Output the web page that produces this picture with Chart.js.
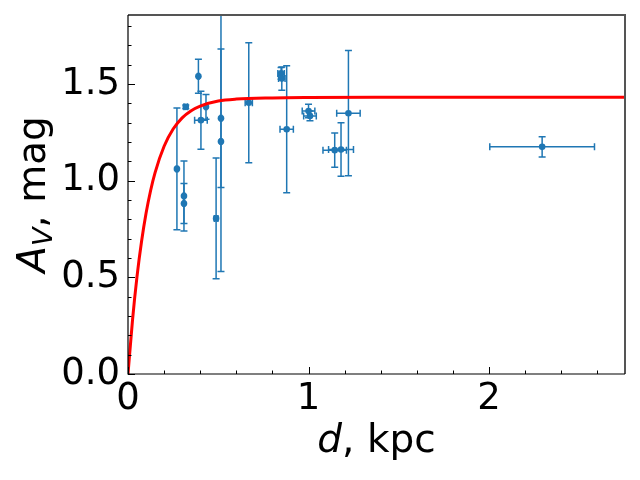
<!DOCTYPE html>
<html>
<head>
<meta charset="utf-8">
<script src="https://cdn.jsdelivr.net/npm/chart.js@4/dist/chart.umd.min.js"></script>
<style>
html,body{margin:0;padding:0;background:#fff;}
#wrap{width:640px;height:480px;}
</style>
</head>
<body>
<div id="wrap"><canvas id="c" width="640" height="480"></canvas></div>
<script>
// ---- data ----
const dist    = [0.271, 0.310, 0.310, 0.320, 0.390, 0.404, 0.432, 0.488, 0.515, 0.515, 0.669, 0.848, 0.852, 0.879, 1.000, 1.008, 1.145, 1.180, 1.221, 2.294];
const av      = [1.061, 0.921, 0.882, 1.382, 1.540, 1.313, 1.382, 0.805, 1.323, 1.203, 1.403, 1.555, 1.528, 1.266, 1.360, 1.335, 1.158, 1.161, 1.349, 1.175];
const distErr = [0.005, 0.005, 0.005, 0.010, 0.005, 0.035, 0.005, 0.010, 0.005, 0.005, 0.020, 0.018, 0.018, 0.037, 0.035, 0.035, 0.065, 0.069, 0.065, 0.290];
const avErr   = [0.315, 0.181, 0.103, 0.010, 0.088, 0.150, 0.064, 0.312, 0.358, 0.673, 0.310, 0.030, 0.060, 0.328, 0.035, 0.025, 0.088, 0.138, 0.324, 0.052];

// red model curve
const curveD = [0, 0.025, 0.05, 0.075, 0.10, 0.125, 0.15, 0.20, 0.25, 0.30, 0.35, 0.40, 0.50, 0.60, 0.80, 1.00, 1.50, 2.00, 2.50, 2.753];
const curveA = [0, 0.279, 0.505, 0.685, 0.831, 0.948, 1.042, 1.178, 1.267, 1.325, 1.362, 1.386, 1.412, 1.422, 1.428, 1.430, 1.431, 1.431, 1.431, 1.431];

const xTickValues = [0, 1, 2];
const xTickLabels = ['0', '1', '2'];
const yTickValues = [0, 0.5, 1.0, 1.5];
const yTickLabels = ['0.0', '0.5', '1.0', '1.5'];
const xRange = [0, 2.753];
const yRange = [0, 1.857];
const xMinorStep = 0.2;
const yMinorStep = 0.1;

const BLUE = '#1f77b4';
const FONT = "'DejaVu Sans'";
const FS = 39;      // axis titles
const TFS = 37;     // tick labels

const errorBars = {
  id: 'errorBars',
  beforeDatasetsDraw(chart) {
    const {ctx, chartArea: a, scales: {x, y}} = chart;
    ctx.save();
    ctx.beginPath();
    ctx.rect(a.left, a.top, a.right - a.left, a.bottom - a.top);
    ctx.clip();
    ctx.strokeStyle = BLUE;
    ctx.lineWidth = 1.5;
    const cap = 3.5;
    for (let i = 0; i < dist.length; i++) {
      const px = x.getPixelForValue(dist[i]);
      const py = y.getPixelForValue(av[i]);
      const y1 = y.getPixelForValue(av[i] - avErr[i]);
      const y2 = y.getPixelForValue(av[i] + avErr[i]);
      const x1 = x.getPixelForValue(dist[i] - distErr[i]);
      const x2 = x.getPixelForValue(dist[i] + distErr[i]);
      ctx.beginPath();
      ctx.moveTo(px, y1); ctx.lineTo(px, y2);
      ctx.moveTo(px - cap, y1); ctx.lineTo(px + cap, y1);
      ctx.moveTo(px - cap, y2); ctx.lineTo(px + cap, y2);
      ctx.moveTo(x1, py); ctx.lineTo(x2, py);
      ctx.moveTo(x1, py - cap); ctx.lineTo(x1, py + cap);
      ctx.moveTo(x2, py - cap); ctx.lineTo(x2, py + cap);
      ctx.stroke();
    }
    ctx.restore();
  }
};

const frame = {
  id: 'frame',
  afterDraw(chart) {
    const {ctx, chartArea: a, scales: {x, y}} = chart;
    ctx.save();
    // top & right spines
    ctx.strokeStyle = '#555';
    ctx.lineWidth = 2;
    ctx.beginPath();
    ctx.moveTo(a.left, a.top); ctx.lineTo(a.right, a.top); ctx.lineTo(a.right, a.bottom);
    ctx.stroke();
    // left & bottom spines
    ctx.strokeStyle = '#000';
    ctx.lineWidth = 1.2;
    ctx.beginPath();
    ctx.moveTo(a.left, a.top); ctx.lineTo(a.left, a.bottom); ctx.lineTo(a.right, a.bottom);
    ctx.stroke();
    // inward ticks
    ctx.lineWidth = 1;
    ctx.beginPath();
    for (let k = 0; ; k++) {
      const v = k * xMinorStep;
      if (v > xRange[1] + 1e-9) break;
      const major = xTickValues.some(t => Math.abs(t - v) < 1e-6);
      const px = Math.round(x.getPixelForValue(v)) + 0.5;
      ctx.moveTo(px, a.bottom); ctx.lineTo(px, a.bottom - (major ? 7 : 3.5));
    }
    for (let k = 0; ; k++) {
      const v = k * yMinorStep;
      if (v > yRange[1] + 1e-9) break;
      const major = yTickValues.some(t => Math.abs(t - v) < 1e-6);
      const py = Math.round(y.getPixelForValue(v)) + 0.5;
      ctx.moveTo(a.left, py); ctx.lineTo(a.left + (major ? 7 : 3.5), py);
    }
    ctx.stroke();

    // axis titles
    ctx.fillStyle = '#000';
    ctx.textBaseline = 'alphabetic';
    // x title: d, kpc
    const t1 = 'd', t2 = ', kpc';
    ctx.font = `italic ${FS}px ${FONT}`;
    const w1 = ctx.measureText(t1).width;
    ctx.font = `${FS}px ${FONT}`;
    const w2 = ctx.measureText(t2).width;
    const cx = (a.left + a.right) / 2;
    let sx = cx - (w1 + w2) / 2;
    ctx.font = `italic ${FS}px ${FONT}`;
    ctx.textAlign = 'left';
    ctx.fillText(t1, sx, 452);
    ctx.font = `${FS}px ${FONT}`;
    ctx.fillText(t2, sx + w1, 452);

    // y title: A_V, mag
    const cy = (a.top + a.bottom) / 2;
    ctx.translate(45, cy);
    ctx.rotate(-Math.PI / 2);
    const sA = 'A', sV = 'V', sR = ', mag';
    const subFs = Math.round(FS * 0.7);
    ctx.font = `italic ${FS}px ${FONT}`;
    const wA = ctx.measureText(sA).width;
    ctx.font = `italic ${subFs}px ${FONT}`;
    const wV = ctx.measureText(sV).width;
    ctx.font = `${FS}px ${FONT}`;
    const wR = ctx.measureText(sR).width;
    let ox = -(wA + wV + wR) / 2;
    ctx.font = `italic ${FS}px ${FONT}`;
    ctx.fillText(sA, ox, 0);
    ctx.font = `italic ${subFs}px ${FONT}`;
    ctx.fillText(sV, ox + wA, 7);
    ctx.font = `${FS}px ${FONT}`;
    ctx.fillText(sR, ox + wA + wV, 0);
    ctx.restore();
  }
};

new Chart(document.getElementById('c'), {
  type: 'scatter',
  data: {
    datasets: [
      {
        type: 'line',
        data: curveD.map((d, i) => ({x: d, y: curveA[i]})),
        borderColor: '#ff0000',
        borderWidth: 3,
        pointRadius: 0,
        fill: false,
        cubicInterpolationMode: 'monotone',
        order: 0
      },
      {
        data: dist.map((d, i) => ({x: d, y: av[i]})),
        backgroundColor: BLUE,
        borderColor: BLUE,
        borderWidth: 0,
        pointRadius: 3.3,
        order: 1
      }
    ]
  },
  options: {
    responsive: false,
    devicePixelRatio: 1,
    animation: false,
    events: [],
    layout: {padding: {left: 0, top: 15, right: 15, bottom: 0}},
    plugins: {legend: {display: false}, tooltip: {enabled: false}},
    scales: {
      x: {
        type: 'linear',
        min: xRange[0], max: xRange[1],
        afterFit(s) { s.height = 106; s.paddingLeft = 0; s.paddingRight = 0; s.paddingTop = 0; s.paddingBottom = 0; },
        afterBuildTicks(s) { s.ticks = xTickValues.map(v => ({value: v})); },
        grid: {display: false, drawTicks: false},
        border: {display: false},
        ticks: {
          autoSkip: false, maxRotation: 0, padding: 3,
          color: '#000',
          font: {family: 'DejaVu Sans', size: TFS},
          callback: (v) => xTickLabels[xTickValues.indexOf(v)]
        }
      },
      y: {
        type: 'linear',
        min: yRange[0], max: yRange[1],
        afterFit(s) { s.width = 128; s.paddingLeft = 0; s.paddingRight = 0; s.paddingTop = 0; s.paddingBottom = 0; },
        afterBuildTicks(s) { s.ticks = yTickValues.map(v => ({value: v})); },
        grid: {display: false, drawTicks: false},
        border: {display: false},
        ticks: {
          autoSkip: false, padding: 8,
          color: '#000',
          font: {family: 'DejaVu Sans', size: TFS},
          callback: (v) => yTickLabels[yTickValues.indexOf(v)]
        }
      }
    }
  },
  plugins: [errorBars, frame]
});
</script>
</body>
</html>
